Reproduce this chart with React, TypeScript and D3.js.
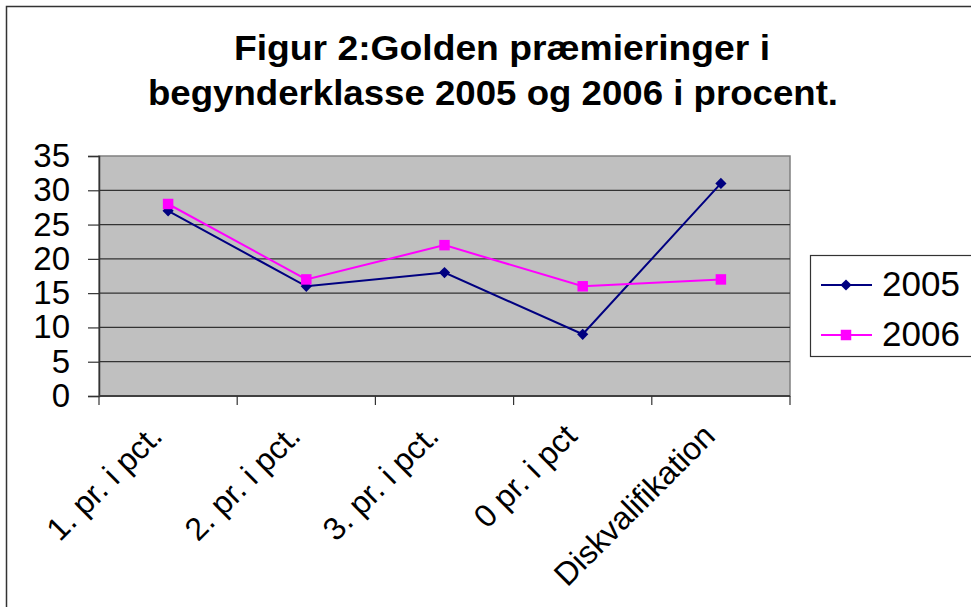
import React, { useEffect, useRef } from 'react';
import * as d3 from 'd3';

// kategorier og serier (procent)
const categories = ['1. pr. i pct.', '2. pr. i pct.', '3. pr. i pct.', '0 pr. i pct', 'Diskvalifikation'];
const values2005 = [27, 16, 18, 9, 31];
const values2006 = [28, 17, 22, 16, 17];
const seriesNames = ['2005', '2006'];
const yTicks = [0, 5, 10, 15, 20, 25, 30, 35];
const titleLines = ['Figur 2:Golden præmieringer i', 'begynderklasse 2005 og 2006 i procent.'];

const FONT = '"Liberation Sans", Arial, sans-serif';

export default function App() {
  const svgRef = useRef<SVGSVGElement>(null);

  useEffect(() => {
    const width = 971;
    const height = 607;
    const svg = d3.select(svgRef.current);
    svg.selectAll('*').remove();
    svg.attr('width', width).attr('height', height).style('font-family', FONT);

    svg.append('rect').attr('width', width).attr('height', height).attr('fill', '#fff');

    // ydre ramme
    svg.append('rect')
      .attr('x', 6.5).attr('y', 6.5)
      .attr('width', width + 20).attr('height', height + 20)
      .attr('fill', 'none').attr('stroke', '#333').attr('stroke-width', 1.5);

    // titel - to linjer, strakt til samme bredde som originalen
    const titlePos = [{ x: 234, w: 536 }, { x: 148, w: 690 }];
    svg.append('g')
      .selectAll('text')
      .data(titleLines)
      .enter().append('text')
      .attr('x', (d, i) => titlePos[i].x)
      .attr('y', (d, i) => 60 + i * 45)
      .attr('textLength', (d, i) => titlePos[i].w)
      .attr('lengthAdjust', 'spacingAndGlyphs')
      .attr('font-weight', 'bold')
      .attr('font-size', 35)
      .text(d => d);

    const plot = { left: 99, right: 790, top: 156, bottom: 396 };

    const x = d3.scaleBand().domain(categories).range([plot.left, plot.right]);
    const y = d3.scaleLinear().domain([0, 35]).range([plot.bottom, plot.top]);

    // plotområde
    svg.append('rect')
      .attr('x', plot.left).attr('y', plot.top)
      .attr('width', plot.right - plot.left).attr('height', plot.bottom - plot.top)
      .attr('fill', '#c0c0c0').attr('stroke', '#808080').attr('stroke-width', 1.5);

    // gitterlinjer
    svg.append('g')
      .selectAll('line')
      .data(yTicks.filter(t => t > 0 && t < 35))
      .enter().append('line')
      .attr('x1', plot.left).attr('x2', plot.right)
      .attr('y1', d => y(d)).attr('y2', d => y(d))
      .attr('stroke', '#333').attr('stroke-width', 1.2);

    // y-akse
    const yAxis = svg.append('g').attr('transform', `translate(${plot.left},0)`)
      .call(d3.axisLeft(y).tickValues(yTicks).tickSize(11).tickPadding(18));
    yAxis.select('.domain').attr('stroke', '#333').attr('stroke-width', 1.5);
    yAxis.selectAll('.tick line').attr('stroke', '#333').attr('stroke-width', 1.2);
    yAxis.selectAll('.tick text')
      .attr('font-family', FONT)
      .attr('font-size', 33)
      .attr('fill', '#000');

    // x-akse
    const boundaries = categories.map(c => x(c)!).concat([plot.right]);
    svg.append('line')
      .attr('x1', plot.left).attr('x2', plot.right)
      .attr('y1', plot.bottom).attr('y2', plot.bottom)
      .attr('stroke', '#404040').attr('stroke-width', 2);
    svg.append('g').selectAll('line')
      .data(boundaries)
      .enter().append('line')
      .attr('x1', d => d).attr('x2', d => d)
      .attr('y1', plot.bottom).attr('y2', plot.bottom + 9)
      .attr('stroke', '#333').attr('stroke-width', 1.2);

    svg.append('g').selectAll('text')
      .data(categories)
      .enter().append('text')
      .attr('transform', d => `translate(${x(d)! + x.bandwidth() / 2 - 4},${plot.bottom + 42}) rotate(-45)`)
      .attr('text-anchor', 'end')
      .attr('font-size', 32)
      .attr('fill', '#000')
      .text(d => d);

    // linjer
    const cx = (d: string) => x(d)! + x.bandwidth() / 2;
    const line = d3.line<[string, number]>().x(d => cx(d[0])).y(d => y(d[1]));
    const s2005 = categories.map((c, i) => [c, values2005[i]] as [string, number]);
    const s2006 = categories.map((c, i) => [c, values2006[i]] as [string, number]);

    svg.append('path').datum(s2005).attr('d', line)
      .attr('fill', 'none').attr('stroke', '#000080').attr('stroke-width', 2);
    svg.append('path').datum(s2006).attr('d', line)
      .attr('fill', 'none').attr('stroke', '#ff00ff').attr('stroke-width', 2);

    const diamond = d3.symbol().type(d3.symbolDiamond2).size(80);
    const square = d3.symbol().type(d3.symbolSquare).size(110);

    svg.append('g').selectAll('path')
      .data(s2005).enter().append('path')
      .attr('d', diamond)
      .attr('transform', d => `translate(${cx(d[0])},${y(d[1])})`)
      .attr('fill', '#000080');
    svg.append('g').selectAll('path')
      .data(s2006).enter().append('path')
      .attr('d', square)
      .attr('transform', d => `translate(${cx(d[0])},${y(d[1])})`)
      .attr('fill', '#ff00ff');

    // forklaring
    const legend = svg.append('g');
    legend.append('rect')
      .attr('x', 810.5).attr('y', 255.5).attr('width', 165).attr('height', 101)
      .attr('fill', '#fff').attr('stroke', '#333').attr('stroke-width', 1.2);
    const colors = ['#000080', '#ff00ff'];
    seriesNames.forEach((name, i) => {
      const ly = 285 + i * 50;
      legend.append('line')
        .attr('x1', 821).attr('x2', 872).attr('y1', ly).attr('y2', ly)
        .attr('stroke', colors[i]).attr('stroke-width', 2);
      legend.append('path')
        .attr('d', i === 0 ? diamond : square)
        .attr('transform', `translate(846,${ly})`)
        .attr('fill', colors[i]);
      legend.append('text')
        .attr('x', 882).attr('y', ly + 11)
        .attr('font-size', 35)
        .attr('fill', '#000')
        .text(name);
    });
  }, []);

  return (
    <div>
      <style>{`body{margin:0}`}</style>
      <svg ref={svgRef}></svg>
    </div>
  );
}
